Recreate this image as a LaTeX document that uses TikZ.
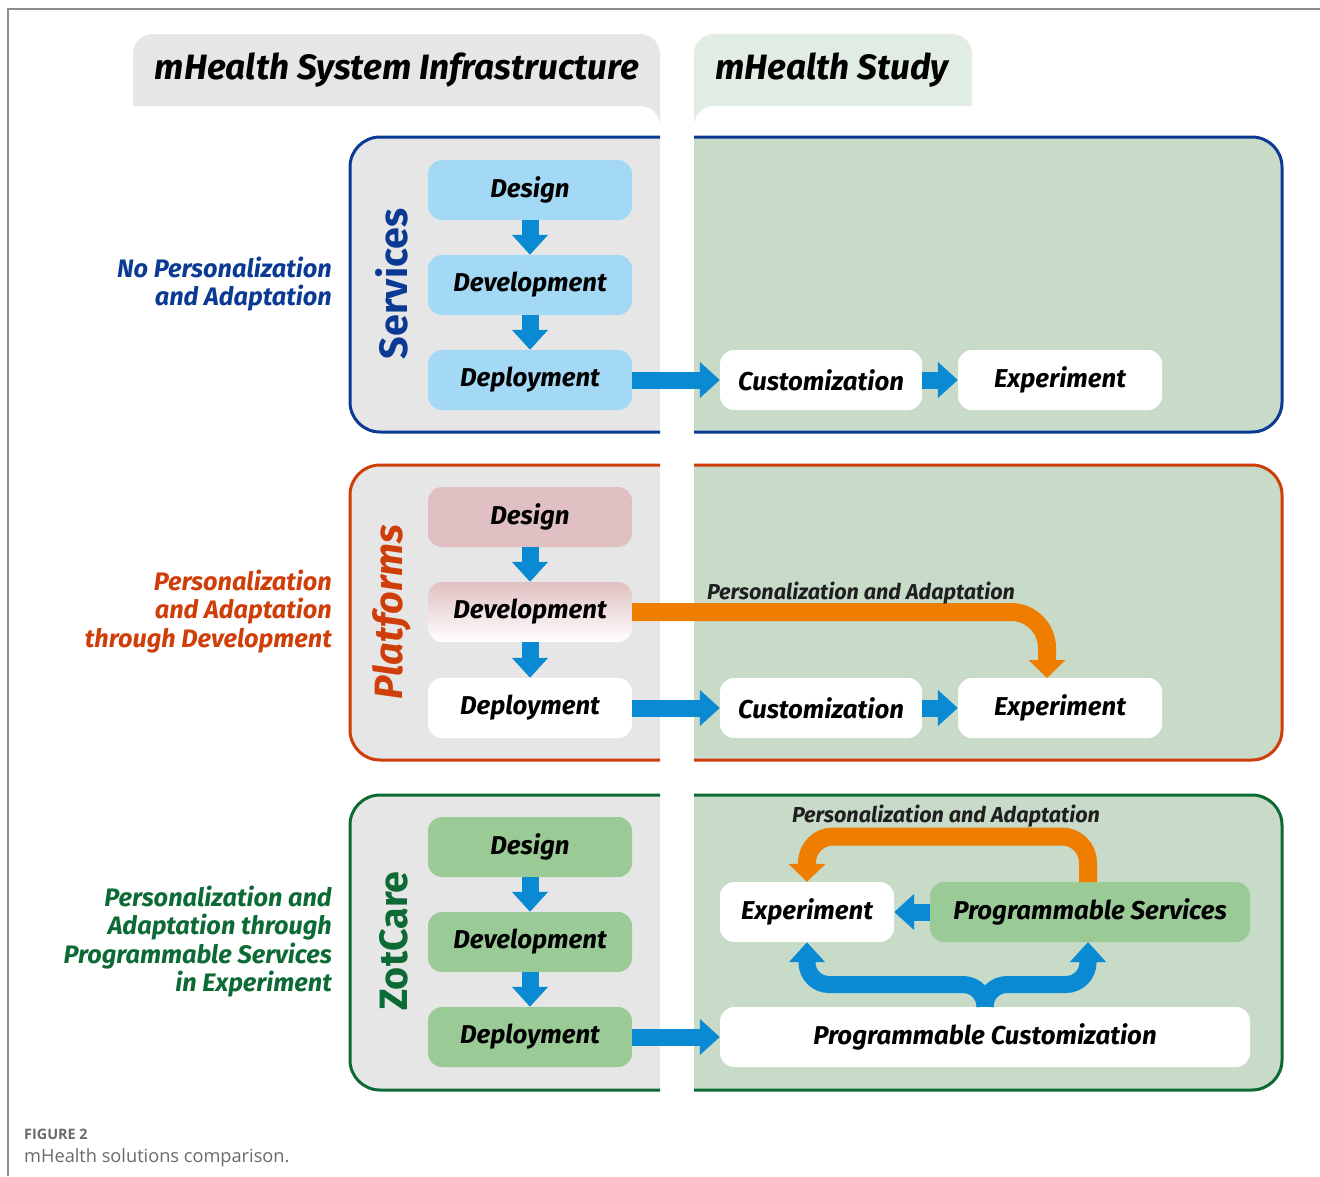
\documentclass[tikz,border=0pt]{standalone}
\usepackage{fontspec}
\setsansfont{Fira Sans}
\newfontfamily\capfont{Open Sans}
\usetikzlibrary{arrows.meta}
\definecolor{svcblue}{HTML}{0B3A94}
\definecolor{platred}{HTML}{CF3D08}
\definecolor{zotgreen}{HTML}{0C6A35}
\definecolor{lgray}{HTML}{E6E6E6}
\definecolor{studygreen}{HTML}{C7DBC8}
\definecolor{tabgreen}{HTML}{E1ECE2}
\definecolor{arrblue}{HTML}{0A8AD3}
\definecolor{arrorange}{HTML}{EE7D00}
\definecolor{lblue}{HTML}{A3D9F4}
\definecolor{lpink}{HTML}{E0C0C2}
\definecolor{lgreen}{HTML}{9ACB97}
\definecolor{framegray}{HTML}{8C8C8C}
\definecolor{capgray}{HTML}{6A6A6A}
\newcommand\bxfont{\fontsize{25.8}{30}\selectfont\sffamily\bfseries\itshape}
\newcommand\lblfont{\fontsize{25.3}{28.5}\selectfont\sffamily\bfseries\itshape}
\newcommand\ttlfont{\fontsize{35.2}{40}\selectfont\sffamily\bfseries\itshape}
\newcommand\pafont{\fontsize{21.6}{25}\selectfont\sffamily\bfseries\itshape}
\newcommand\rotfont{\fontsize{39.5}{44}\selectfont\sffamily\bfseries}
\begin{document}
\begin{tikzpicture}[x=1pt,y=-1pt,
  bx/.style={rounded corners=14pt, minimum height=60pt, minimum width=204pt, inner sep=0pt, font=\bxfont, text=black},
  bluearr/.style={draw=arrblue, line width=17pt, -{Triangle[width=35pt,length=20pt]}},
  orarr/.style={draw=arrorange, line width=18pt, -{Triangle[width=36pt,length=18pt]}},
  rowframe/.style={line width=3pt, rounded corners=30pt},
  sidelbl/.style={anchor=east, align=right, inner sep=0pt, font=\lblfont},
  palbl/.style={font=\pafont, text=black!88}
]
\useasboundingbox (0,0) rectangle (1320,1176);
\fill[white] (0,0) rectangle (1320,1176);
% page frame
\draw[framegray, line width=1.3pt] (8,1176) -- (8,9) -- (1320,9);

% tabs
\fill[lgray, rounded corners=20pt] (133,34) rectangle (660,140);
\fill[white, rounded corners=20pt] (100,106) rectangle (660,170);
\fill[tabgreen, rounded corners=20pt] (694,34) rectangle (972,140);
\fill[white, rounded corners=20pt] (694,106) rectangle (1000,170);
\node[font=\ttlfont] (t1) at (397,70) {mHealth System Infrastructure};
\node[font=\ttlfont] (t2) at (832,70) {mHealth Study};

% row frames
\filldraw[rowframe, fill=lgray, draw=svcblue] (660,137) -- (350,137) -- (350,432) -- (660,432);
\filldraw[rowframe, fill=studygreen, draw=svcblue] (694,137) -- (1282,137) -- (1282,432) -- (694,432);
\filldraw[rowframe, fill=lgray, draw=platred] (660,465) -- (350,465) -- (350,760) -- (660,760);
\filldraw[rowframe, fill=studygreen, draw=platred] (694,465) -- (1282,465) -- (1282,760) -- (694,760);
\filldraw[rowframe, fill=lgray, draw=zotgreen] (660,795) -- (350,795) -- (350,1090) -- (660,1090);
\filldraw[rowframe, fill=studygreen, draw=zotgreen] (694,795) -- (1282,795) -- (1282,1090) -- (694,1090);

% side labels
\node[sidelbl, text=svcblue] (l1) at (332,284) {No Personalization\\and Adaptation};
\node[sidelbl, text=platred] (l2) at (332,611.5) {Personalization\\and Adaptation\\through Development};
\node[sidelbl, text=zotgreen] (l3) at (332,941.5) {Personalization and\\Adaptation through\\Programmable Services\\in Experiment};

% rotated labels
\node[rotate=90, font=\rotfont, text=svcblue] (r1) at (392,284) {Services};
\node[rotate=90, font=\rotfont\itshape, text=platred] (r2) at (392,612) {Platforms};
\node[rotate=90, font=\rotfont, text=zotgreen] (r3) at (394,941) {ZotCare};

% row 1
\node[bx, fill=lblue] (des1) at (530,190) {Design};
\node[bx, fill=lblue] (dev1) at (530,285) {Development};
\node[bx, fill=lblue] (dep1) at (530,380) {Deployment};
\node[bx, fill=white, minimum width=202pt] (cus1) at (821,380) {Customization};
\node[bx, fill=white] (exp1) at (1060,380) {Experiment};
\draw[bluearr] (des1.south) -- (dev1.north);
\draw[bluearr] (dev1.south) -- (dep1.north);
\draw[bluearr] (dep1.east) -- (cus1.west);
\draw[bluearr] (cus1.east) -- (exp1.west);

% row 2
\node[bx, fill=lpink] (des2) at (530,517) {Design};
\node[bx, top color=lpink, bottom color=white] (dev2) at (530,612) {Development};
\node[bx, fill=white] (dep2) at (530,708) {Deployment};
\node[bx, fill=white, minimum width=202pt] (cus2) at (821,708) {Customization};
\node[bx, fill=white] (exp2) at (1060,708) {Experiment};
\draw[bluearr] (des2.south) -- (dev2.north);
\draw[bluearr] (dev2.south) -- (dep2.north);
\draw[bluearr] (dep2.east) -- (cus2.west);
\draw[bluearr] (cus2.east) -- (exp2.west);
\coordinate (o2end) at (1047,678);
\draw[orarr, rounded corners=36pt] (dev2.east) -- (o2end |- dev2.east) -- (o2end);
\node[palbl] (pa2) at (861,593) {Personalization and Adaptation};

% row 3
\node[bx, fill=lgreen] (des3) at (530,847) {Design};
\node[bx, fill=lgreen] (dev3) at (530,942) {Development};
\node[bx, fill=lgreen] (dep3) at (530,1037) {Deployment};
\node[bx, fill=white, minimum width=174pt] (exp3) at (807,912) {Experiment};
\node[bx, fill=lgreen, minimum width=320pt] (ps3) at (1090,912) {Programmable Services};
\node[bx, fill=white, minimum width=530pt] (pc3) at (985,1037) {Programmable Customization};
\draw[bluearr] (des3.south) -- (dev3.north);
\draw[bluearr] (dev3.south) -- (dep3.north);
\draw[bluearr] (dep3.east) -- (pc3.west);
\draw[bluearr] (ps3.west) -- (exp3.east);
\coordinate (psTop) at (1088,882);
\draw[orarr, rounded corners=26pt] (psTop) -- (1088,836.5) -- (exp3.north |- 0,836.5) -- (exp3.north);
\node[palbl] (pa3) at (946,816) {Personalization and Adaptation};
\coordinate (psBot) at (1088,942);
\draw[bluearr, rounded corners=22pt] (pc3.north) -- (985,984.5) -- (exp3.south |- 0,984.5) -- (exp3.south);
\draw[bluearr, rounded corners=22pt] (pc3.north) -- (985,984.5) -- (1088,984.5) -- (psBot);

% caption
\node[anchor=west, inner sep=0pt, font=\fontsize{14.4}{17}\selectfont\capfont\bfseries, text=capgray] (fig) at (24,1134) {FIGURE 2};
\node[anchor=west, inner sep=0pt, font=\fontsize{18.2}{22}\selectfont\capfont, text=capgray] (cap) at (24,1158) {mHealth solutions comparison.};
\end{tikzpicture}
\end{document}
